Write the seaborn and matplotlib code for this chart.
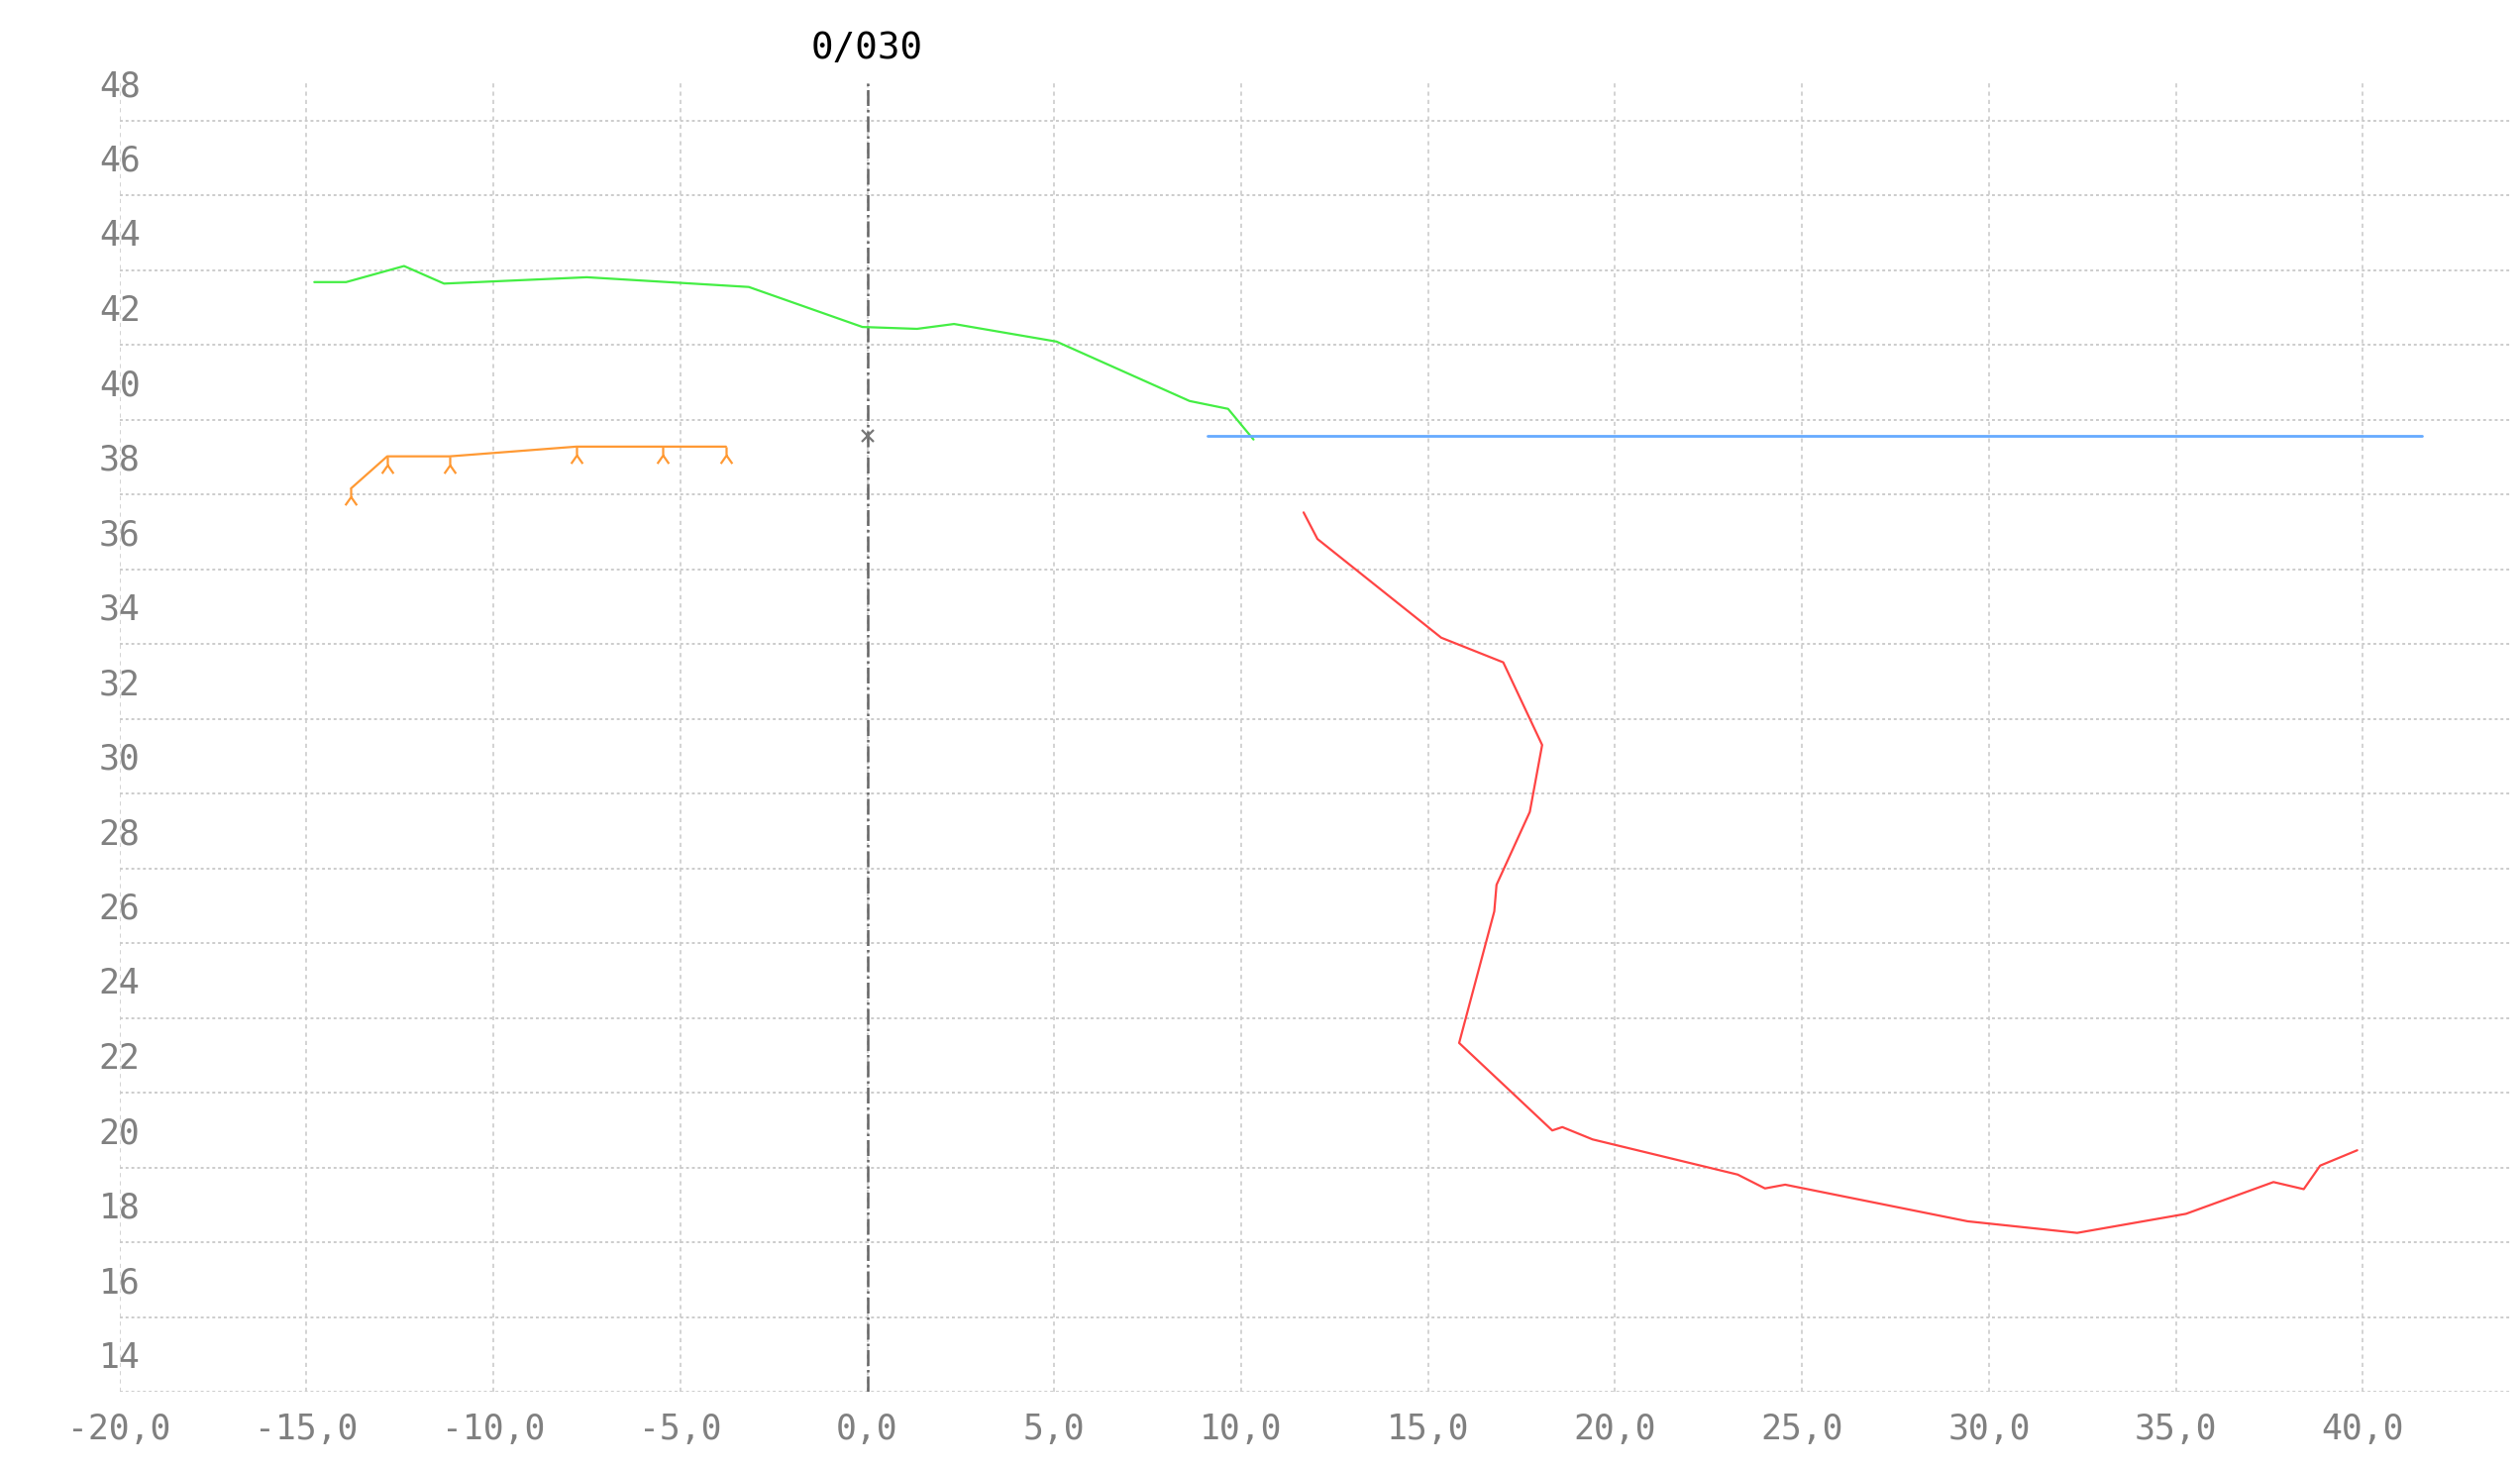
import numpy as np
import pandas as pd
import matplotlib
matplotlib.use('Agg')
import matplotlib.pyplot as plt
from matplotlib.path import Path
from matplotlib.ticker import FixedLocator, FuncFormatter
import seaborn as sns

# данные
green_x = [-14.79, -13.94, -12.39, -11.32, -7.50, -3.17, -0.13, 1.33, 2.32, 5.06, 8.62, 9.65, 10.33]
green_y = [42.68, 42.68, 43.11, 42.64, 42.81, 42.55, 41.48, 41.43, 41.56, 41.09, 39.50, 39.29, 38.47]

orange_x = [-13.81, -12.84, -11.17, -7.78, -5.48, -3.78]
orange_y = [37.16, 38.02, 38.02, 38.28, 38.28, 38.28]

blue_x = [9.09, 41.57]
blue_y = [38.57, 38.57]

red_x = [11.67, 12.04, 15.35, 17.01, 18.05, 17.72, 16.83, 16.77, 15.83, 18.32, 18.59, 19.40,
         23.28, 24.01, 24.55, 29.43, 32.36, 35.27, 37.61, 38.42, 38.86, 39.85]
red_y = [36.52, 35.81, 33.17, 32.51, 30.30, 28.51, 26.56, 25.85, 22.33, 19.99, 20.08, 19.75,
         18.81, 18.44, 18.54, 17.56, 17.25, 17.76, 18.61, 18.42, 19.05, 19.46]

center_x = [0.0]
center_y = [38.57]

title_text = '0/030'
x_ticks = list(range(-20, 41, 5))
y_ticks = list(range(14, 49, 2))
y_grid = list(range(13, 48, 2))

sns.set_style('white')
plt.rcParams['font.family'] = ['DejaVu Sans Mono', 'DejaVu Sans']

fig = plt.figure(figsize=(12.72, 7.42), dpi=200)
ax = fig.add_axes([0.0464, 0.0532, 0.9516, 0.8902])

# маркер "тренога" со смещением вниз от вершины
tri = Path([(0, 0), (0, -1), (-0.7, -2), (0, -1), (0.7, -2)],
           [Path.MOVETO, Path.LINETO, Path.LINETO, Path.MOVETO, Path.LINETO])

sns.lineplot(x=green_x, y=green_y, sort=False, estimator=None, color='#44ee44', lw=0.8, ax=ax)
sns.lineplot(x=blue_x, y=blue_y, sort=False, estimator=None, color='#66aaff', lw=1.0, ax=ax)
sns.lineplot(x=red_x, y=red_y, sort=False, estimator=None, color='#ff4444', lw=0.8, ax=ax)
sns.lineplot(x=orange_x, y=orange_y, sort=False, estimator=None, color='#ff9933', lw=0.8,
             marker=tri, markersize=12, markeredgewidth=0.8, markeredgecolor='#ff9933',
             markerfacecolor='none', ax=ax)

ax.axvline(center_x[0], color='#666666', lw=0.9, ls='-.', zorder=1)
ax.plot(center_x, center_y, marker='x', ms=4, mew=0.8, color='#777777', ls='none')

ax.set_xlim(-20, 44)
ax.set_ylim(13, 48)
ax.set_aspect('equal', adjustable='box')

ax.xaxis.set_major_locator(FixedLocator(x_ticks))
ax.xaxis.set_major_formatter(FuncFormatter(lambda v, p: f'{v:.1f}'.replace('.', ',')))
ax.yaxis.set_major_locator(FixedLocator(y_ticks))
ax.yaxis.set_minor_locator(FixedLocator(y_grid))
ax.yaxis.set_major_formatter(FuncFormatter(lambda v, p: f'{int(v)}'))

ax.tick_params(axis='both', which='both', length=0, labelsize=12.5, labelcolor='#808080')
ax.tick_params(axis='x', pad=7.5)
ax.tick_params(axis='y', pad=0)
for lab in ax.get_yticklabels():
    lab.set_ha('center')

ax.xaxis.grid(True, which='major', color='#cccccc', ls=(0, (2.5, 2.5)), lw=0.6)
ax.yaxis.grid(True, which='minor', color='#cccccc', ls=(0, (1.5, 1.5)), lw=0.7)
ax.yaxis.grid(False, which='major')
ax.set_axisbelow(True)

for s in ax.spines.values():
    s.set_visible(False)

ax.annotate(title_text, xy=(center_x[0], 48), xytext=(0, 12.5), textcoords='offset points',
            ha='center', va='center', fontsize=13.5, color='black', annotation_clip=False)

fig.savefig('out.png', dpi=200)
